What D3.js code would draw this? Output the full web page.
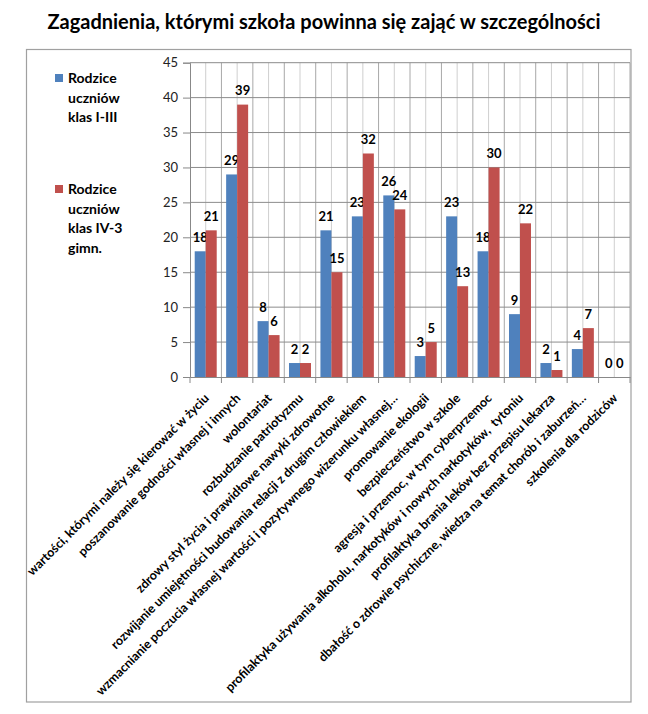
<!DOCTYPE html>
<html><head><meta charset="utf-8">
<script src="https://cdn.jsdelivr.net/npm/d3@7"></script>
<style>
html,body{margin:0;padding:0;background:#fff;}
svg text{font-family:Lato,"Liberation Sans",sans-serif;}
</style></head>
<body>
<svg id="chart" width="648" height="714"></svg>
<script>
const title = "Zagadnienia, którymi szkoła powinna się zająć w szczególności";
const categories = [
  "wartości, którymi należy się kierować w życiu",
  "poszanowanie godności własnej i innych",
  "wolontariat",
  "rozbudzanie patriotyzmu",
  "zdrowy styl życia i prawidłowe nawyki zdrowotne",
  "rozwijanie umiejętności budowania relacji z drugim człowiekiem",
  "wzmacnianie poczucia własnej wartości i pozytywnego wizerunku własnej…",
  "promowanie ekologii",
  "bezpieczeństwo w szkole",
  "agresja i przemoc, w tym cyberprzemoc",
  "profilaktyka używania alkoholu, narkotyków i nowych narkotyków,  tytoniu",
  "profilaktyka brania leków bez przepisu lekarza",
  "dbałość o zdrowie psychiczne, wiedza na temat chorób i zaburzeń…",
  "szkolenia dla rodziców"
];
const seriesNames = ["Rodzice uczniów klas I-III", "Rodzice uczniów klas IV-3 gimn."];
const legendLines = [["Rodzice","uczniów","klas I-III"],["Rodzice","uczniów","klas IV-3","gimn."]];
const valuesA = [18, 29, 8, 2, 21, 23, 26, 3, 23, 18, 9, 2, 4, 0];
const valuesB = [21, 39, 6, 2, 15, 32, 24, 5, 13, 30, 22, 1, 7, 0];
const yTicks = [0, 5, 10, 15, 20, 25, 30, 35, 40, 45];
const colors = ["#4F81BD", "#C0504D"];

const svg = d3.select("#chart");
const L = 190, R = 630, T = 62.7, B = 377;

// outer border
svg.append("rect").attr("x",26.5).attr("y",49.5).attr("width",604.5).attr("height",652.5)
  .attr("fill","none").attr("stroke","#a0a0a0").attr("stroke-width",1.2);

// title
svg.append("text").attr("x",324).attr("y",29).attr("text-anchor","middle")
  .attr("font-size",20).attr("font-weight","bold").attr("fill","#000").text(title);

const x0 = d3.scaleBand().domain(d3.range(categories.length)).range([L,R]).padding(0);
const bw = x0.bandwidth();
const x1 = d3.scaleBand().domain([0,1]).range([bw*0.15, bw*0.85]).padding(0);
const y = d3.scaleLinear().domain([0,45]).range([B,T]);

// vertical grid (boundaries and centers)
const g = svg.append("g");
d3.range(categories.length).forEach(i=>{
  const xc = x0(i)+bw/2;
  g.append("line").attr("x1",xc).attr("x2",xc).attr("y1",T).attr("y2",B)
    .attr("stroke","#cfcfcf").attr("stroke-width",1);
  if(i>0){
    const xb = x0(i);
    g.append("line").attr("x1",xb).attr("x2",xb).attr("y1",T).attr("y2",B)
      .attr("stroke","#a8a8a8").attr("stroke-width",1);
  }
});
g.append("line").attr("x1",R).attr("x2",R).attr("y1",T).attr("y2",B).attr("stroke","#a8a8a8");
// horizontal grid
yTicks.filter(t=>t>0).forEach(t=>{
  g.append("line").attr("x1",L).attr("x2",R).attr("y1",y(t)).attr("y2",y(t))
    .attr("stroke","#8c8c8c").attr("stroke-width",1);
});

// y axis
const yAxis = d3.axisLeft(y).tickValues(yTicks).tickSize(7).tickPadding(5);
const ya = svg.append("g").attr("transform",`translate(${L},0)`).call(yAxis);
ya.select(".domain").attr("stroke","#888");
ya.selectAll(".tick line").attr("stroke","#888");
ya.selectAll(".tick text").attr("font-size",13).attr("fill","#222")
  .style("font-family","Lato, 'Liberation Sans', sans-serif");

// x axis
const xAxis = d3.axisBottom(x0).tickValues([]).tickSizeOuter(0);
const xa = svg.append("g").attr("transform",`translate(0,${B})`).call(xAxis);
xa.select(".domain").attr("stroke","#888");
d3.range(categories.length+1).forEach(i=>{
  const xb = L + i*bw;
  xa.append("line").attr("x1",xb).attr("x2",xb).attr("y1",0).attr("y2",6).attr("stroke","#888");
});

// bars
const series = [valuesA, valuesB];
series.forEach((vals,s)=>{
  svg.append("g").selectAll("rect").data(vals).join("rect")
    .attr("x",(d,i)=>x0(i)+x1(s)).attr("width",x1.bandwidth())
    .attr("y",d=>y(d)).attr("height",d=>B-y(d)).attr("fill",colors[s]);
  svg.append("g").selectAll("text").data(vals).join("text")
    .attr("x",(d,i)=>x0(i)+x1(s)+x1.bandwidth()/2).attr("y",d=>y(d)-9.5)
    .attr("text-anchor","middle").attr("font-size",13).attr("font-weight","bold")
    .attr("fill","#000").text(d=>d);
});

// category labels
svg.append("g").selectAll("text").data(categories).join("text")
  .attr("transform",(d,i)=>`translate(${x0(i)+bw/2+4},${B+22}) rotate(-45)`)
  .attr("text-anchor","end").attr("font-size",12.5).attr("font-weight","bold")
  .style("white-space","pre")
  .attr("fill","#000").text(d=>d);

// legend
legendLines.forEach((lines,s)=>{
  const top = s===0 ? 74 : 185;
  svg.append("rect").attr("x",55).attr("y",top).attr("width",8).attr("height",8).attr("fill",colors[s]);
  lines.forEach((ln,k)=>{
    svg.append("text").attr("x",68).attr("y",top+9+k*19.5).attr("font-size",14)
      .attr("font-weight","bold").attr("fill","#000").text(ln);
  });
});
</script>
</body></html>
